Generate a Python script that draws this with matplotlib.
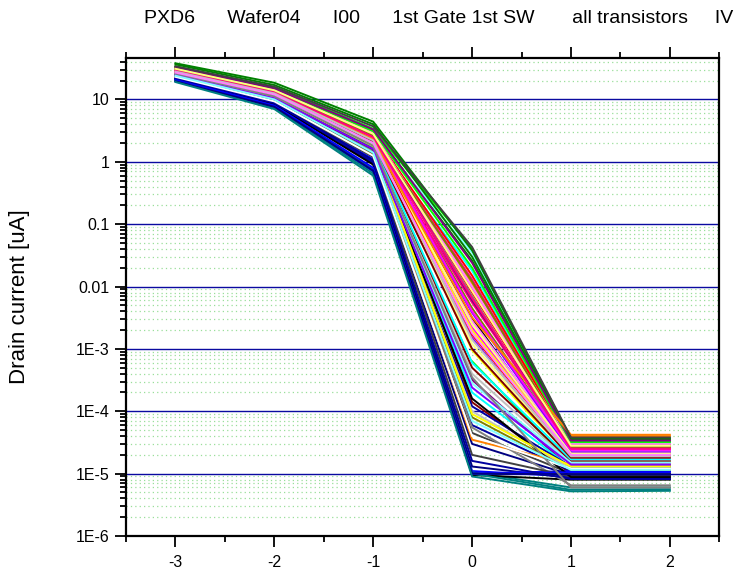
import matplotlib
matplotlib.use('Agg')
import matplotlib.pyplot as plt
from matplotlib.ticker import FixedLocator, FixedFormatter, MultipleLocator, NullFormatter

plt.rcParams['font.family'] = ['Liberation Sans', 'DejaVu Sans']

# Gate voltage steps
vg = [-3, -2, -1, 0, 1, 2]

# Drain current [uA] of each transistor at every gate voltage step
id_m3 = [27, 30, 25, 22, 28, 26, 31, 29, 21, 24, 27, 33, 20, 23, 32, 25, 28, 24, 26, 29, 27, 30, 26, 22,
         21, 31, 34, 20, 25, 29, 28, 23, 22, 30, 27, 36.5, 20, 24, 26, 28, 30, 27, 25, 24, 29, 26, 31, 23,
         25, 28, 32, 21, 27, 29, 26, 30, 19.5, 33, 27, 38, 19, 22, 28, 25, 29, 23, 28, 26, 31, 24, 27, 34]
id_m2 = [12, 13.5, 10.5, 9.0, 12.5, 11, 14, 13, 8.5, 10, 12, 15, 7.8, 9.5, 14.5, 10.5, 12.5, 9.8, 11.5, 13, 12, 13.5, 11, 9,
         8.3, 14, 15.5, 7.5, 10.8, 13, 12.5, 9.6, 8.8, 14, 12, 17, 7.3, 10, 11.2, 12.5, 13.5, 12, 10.5, 10, 13, 11, 14, 9.3,
         10.5, 12.5, 15, 8.0, 12, 13, 11, 13.5, 7.6, 15, 12, 18.5, 7.0, 8.8, 12.5, 10.5, 13, 9.3, 12.5, 11.2, 14, 10, 12, 16]
id_m1 = [2.1, 2.6, 1.7, 1.1, 2.3, 1.9, 2.9, 2.4, 0.95, 1.5, 2.0, 3.2, 0.75, 1.3, 3.0, 1.6, 2.2, 1.4, 1.8, 2.5, 2.0, 2.7, 1.9, 1.2,
         0.9, 2.8, 3.4, 0.7, 1.6, 2.5, 2.3, 1.3, 1.05, 2.8, 2.1, 4.0, 0.65, 1.4, 1.8, 2.2, 2.6, 2.0, 1.6, 1.5, 2.4, 1.8, 2.9, 1.2,
         1.6, 2.3, 3.1, 0.8, 2.0, 2.5, 1.8, 2.6, 0.72, 3.3, 2.1, 4.4, 0.6, 1.0, 2.3, 1.6, 2.5, 1.25, 2.2, 1.8, 2.8, 1.4, 2.0, 3.7]
id_0 = [3.1e-3, 8.0e-3, 6.5e-4, 1.1e-5, 1.8e-2, 2.2e-3, 9.5e-4, 4.5e-3, 1.3e-5, 3.2e-4, 1.4e-4, 2.6e-2,
        1.05e-5, 6.0e-5, 1.1e-2, 1.5e-3, 5.5e-3, 2.5e-5, 4.0e-4, 7.0e-3, 1.2e-3, 3.5e-2, 2.8e-3, 4.5e-5,
        9.5e-6, 1.5e-2, 4.0e-2, 1.0e-5, 2.0e-4, 9.0e-3, 2.0e-3, 8.0e-5, 3.0e-5, 6.0e-3, 5.0e-4, 3.0e-2,
        1.0e-5, 1.2e-4, 3.5e-5, 3.8e-3, 1.3e-2, 7.0e-4, 1.0e-4, 5.5e-5, 2.5e-3, 2.8e-4, 1.0e-2, 2.0e-5,
        1.6e-4, 1.7e-3, 2.0e-2, 1.0e-5, 6.0e-4, 4.0e-3, 9.0e-5, 1.2e-2, 1.0e-5, 2.4e-2, 1.0e-3, 3.8e-2,
        9.0e-6, 1.6e-5, 3.2e-3, 2.4e-4, 6.5e-3, 4.0e-5, 1.4e-3, 3.5e-4, 8.5e-3, 7.0e-5, 1.8e-3, 4.3e-2]
id_1 = [1.9e-5, 2.6e-5, 1.4e-5, 9.0e-6, 3.0e-5, 2.1e-5, 1.6e-5, 2.4e-5, 8.5e-6, 1.2e-5, 1.0e-5, 3.3e-5,
        6.0e-6, 1.1e-5, 4.0e-5, 1.7e-5, 2.7e-5, 1.3e-5, 1.5e-5, 2.2e-5, 1.8e-5, 3.1e-5, 2.3e-5, 1.0e-5,
        8.0e-6, 2.9e-5, 3.6e-5, 1.1e-5, 1.25e-5, 2.5e-5, 2.0e-5, 1.15e-5, 9.5e-6, 2.8e-5, 1.6e-5, 3.5e-5,
        5.5e-6, 1.3e-5, 1.4e-5, 2.2e-5, 2.6e-5, 1.7e-5, 1.2e-5, 6.5e-6, 2.1e-5, 1.5e-5, 3.0e-5, 9.0e-6,
        8.8e-6, 1.95e-5, 3.2e-5, 1.05e-5, 1.7e-5, 2.4e-5, 1.3e-5, 2.7e-5, 9.8e-6, 3.4e-5, 1.8e-5, 3.7e-5,
        5.2e-6, 8.2e-6, 4.2e-5, 1.4e-5, 2.5e-5, 1.2e-5, 1.9e-5, 6.0e-6, 2.8e-5, 1.15e-5, 2.0e-5, 3.8e-5]
id_2 = [1.9e-5, 2.6e-5, 1.4e-5, 9.2e-6, 3.0e-5, 2.1e-5, 1.6e-5, 2.4e-5, 8.5e-6, 1.2e-5, 1.0e-5, 3.3e-5,
        6.0e-6, 1.1e-5, 4.0e-5, 1.7e-5, 2.7e-5, 1.3e-5, 1.5e-5, 2.2e-5, 1.8e-5, 3.1e-5, 2.3e-5, 1.0e-5,
        8.0e-6, 2.9e-5, 3.6e-5, 1.1e-5, 1.25e-5, 2.5e-5, 2.0e-5, 1.15e-5, 9.5e-6, 2.8e-5, 1.6e-5, 3.5e-5,
        5.6e-6, 1.3e-5, 1.4e-5, 2.2e-5, 2.6e-5, 1.7e-5, 1.2e-5, 6.5e-6, 2.1e-5, 1.5e-5, 3.0e-5, 9.0e-6,
        8.8e-6, 1.95e-5, 3.2e-5, 1.05e-5, 1.7e-5, 2.4e-5, 1.3e-5, 2.7e-5, 9.8e-6, 3.4e-5, 1.8e-5, 3.7e-5,
        5.3e-6, 8.2e-6, 4.2e-5, 1.4e-5, 2.5e-5, 1.2e-5, 1.9e-5, 6.0e-6, 2.8e-5, 1.15e-5, 2.0e-5, 3.8e-5]

y_ticks = [1e-6, 1e-5, 1e-4, 1e-3, 1e-2, 1e-1, 1, 10]
y_tick_labels = ['1E-6', '1E-5', '1E-4', '1E-3', '0.01', '0.1', '1', '10']
x_ticks = [-3, -2, -1, 0, 1, 2]
x_tick_labels = ['-3', '-2', '-1', '0', '1', '2']

title = 'PXD6      Wafer04      I00      1st Gate 1st SW       all transistors     IV'
ylabel = 'Drain current [uA]'

# Origin default colour cycle
colors = ['#000000', '#FF0000', '#00FF00', '#0000FF', '#00FFFF', '#FF00FF', '#FFFF00', '#808000',
          '#000080', '#800080', '#800000', '#008000', '#008080', '#0000A0', '#FF8000', '#8000FF',
          '#FF0080', '#FFFFFF', '#C0C0C0', '#808080', '#FFFF80', '#80FFFF', '#FF80FF', '#404040']

W, H = 747, 571
fig = plt.figure(figsize=(W / 100, H / 100), dpi=100)
left, right, top, bottom = 126, 719.3, 57.5, 536
ax = fig.add_axes([left / W, 1 - bottom / H, (right - left) / W, (bottom - top) / H])

for i in range(len(id_m3)):
    vals = [id_m3[i], id_m2[i], id_m1[i], id_0[i], id_1[i], id_2[i]]
    ax.plot(vg, vals, color=colors[i % len(colors)], lw=1.4, solid_joinstyle='round', zorder=3)

ax.set_yscale('log')
ax.set_ylim(1e-6, 47)
ax.set_xlim(-3.5, 2.5)

ax.yaxis.set_major_locator(FixedLocator(y_ticks))
ax.yaxis.set_major_formatter(FixedFormatter(y_tick_labels))
minors = [m * 10.0 ** e for e in range(-6, 2) for m in range(2, 10)]
ax.yaxis.set_minor_locator(FixedLocator(minors))
ax.yaxis.set_minor_formatter(NullFormatter())
ax.xaxis.set_major_locator(FixedLocator(x_ticks))
ax.xaxis.set_major_formatter(FixedFormatter(x_tick_labels))
ax.xaxis.set_minor_locator(MultipleLocator(0.5))

ax.set_axisbelow(True)
ax.grid(axis='y', which='major', color='#0A0AA0', lw=1.0, ls='-', zorder=1)
ax.grid(axis='y', which='minor', color='#9ADF9A', lw=0.9, ls=(0, (1, 2.5)), zorder=1)

for s in ax.spines.values():
    s.set_linewidth(1.6)
    s.set_color('black')

ax.tick_params(axis='both', which='both', direction='out', width=1.3, labelsize=11.5, colors='black')
ax.tick_params(axis='x', which='major', length=8, top=True, bottom=True, pad=6)
ax.tick_params(axis='x', which='minor', length=4.5, top=True, bottom=True)
ax.tick_params(axis='y', which='major', length=8, left=True, right=False, pad=4)
ax.tick_params(axis='y', which='minor', length=4, left=True, right=False)

ax.set_ylabel(ylabel, fontsize=16)
ax.yaxis.set_label_coords((30 - left) / (right - left), 0.5)

fig.text(439 / W, 1 - 23 / H, title, ha='center', va='baseline', fontsize=14)

fig.savefig('out.png', dpi=100)
